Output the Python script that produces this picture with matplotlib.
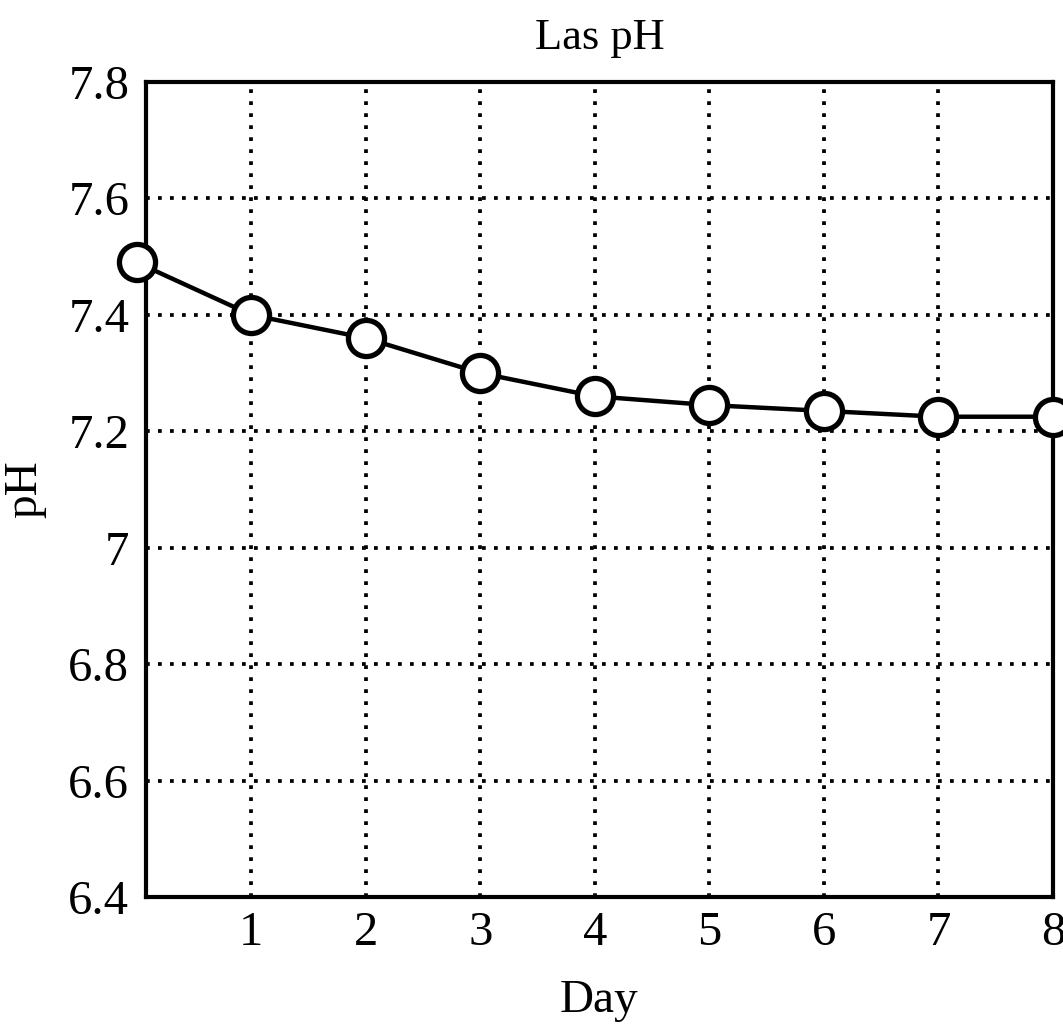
import matplotlib
matplotlib.use("Agg")
import matplotlib.pyplot as plt

days = [0, 1, 2, 3, 4, 5, 6, 7, 8]
ph = [7.49, 7.40, 7.36, 7.30, 7.26, 7.245, 7.235, 7.225, 7.225]
xticks = [1, 2, 3, 4, 5, 6, 7, 8]
yticks = [6.4, 6.6, 6.8, 7.0, 7.2, 7.4, 7.6, 7.8]
ytick_labels = ["6.4", "6.6", "6.8", "7", "7.2", "7.4", "7.6", "7.8"]

plt.rcParams['font.family'] = ['Liberation Serif', 'DejaVu Serif']

fig = plt.figure(figsize=(10.63, 10.34), dpi=100)
ax = fig.add_axes([0.1373, 0.1325, 0.8533, 0.7882])

ax.plot(days, ph, color='black', linewidth=3.2, marker='o', markersize=26,
        markerfacecolor='white', markeredgecolor='black', markeredgewidth=3.8,
        clip_on=False, zorder=5)

ax.set_xlim(0.08, 8)
ax.set_ylim(6.4, 7.8)
ax.set_xticks(xticks)
ax.set_xticklabels([str(t) for t in xticks])
ax.set_yticks(yticks)
ax.set_yticklabels(ytick_labels)
ax.tick_params(axis='both', length=0, labelsize=35, colors='black')
ax.tick_params(axis='x', pad=10)
ax.tick_params(axis='y', pad=12)

ax.grid(True, color='black', linestyle=(0, (1, 2.2)), linewidth=2.7)
for s in ax.spines.values():
    s.set_linewidth(3)
    s.set_color('black')

ax.set_title("Las pH", fontsize=32, pad=24)
ax.set_xlabel("Day", fontsize=34, labelpad=18)
ax.set_ylabel("pH", fontsize=34, labelpad=16)

fig.savefig("out.png", dpi=100)
